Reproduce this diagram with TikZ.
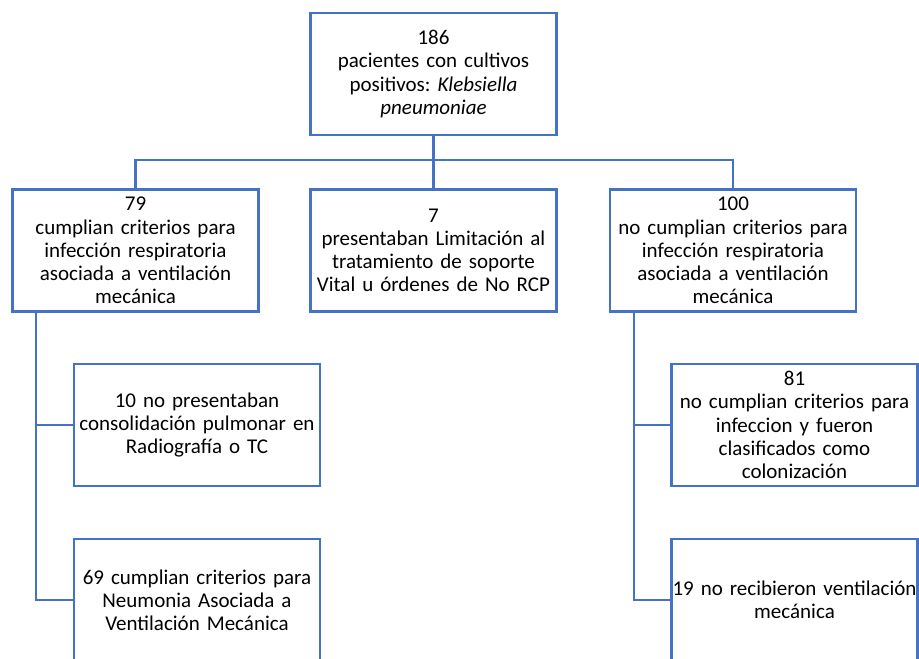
\documentclass[tikz,border=0pt]{standalone}
\usepackage{fontspec}
\setmainfont{Carlito}
\usepackage{xcolor}
\definecolor{boxblue}{HTML}{4472C4}
\frenchspacing

\begin{document}
\begin{tikzpicture}[x=1pt, y=1pt,
		every node/.style={font=\fontsize{21}{23.2}\selectfont, color=black},
		box/.style={draw=boxblue, fill=white, line width=2.8pt, minimum width=246pt, minimum height=122pt, text width=244pt, inner sep=0pt, align=center},
		conn/.style={draw=boxblue, line width=2.8pt}
	]
	\clip (0,0) rectangle (919,-659);

	\node[box] (total) at (433.5,-74) {186\\pacientes con cultivos\\positivos: \textit{Klebsiella}\\\textit{pneumoniae}};

	\node[box] (cumplen) at (135.5,-250.5) {79\\cumplian criterios para\\infección respiratoria\\asociada a ventilación\\mecánica};
	\node[box] (limit) at (433.5,-250.5) {7\\presentaban Limitación al\\tratamiento de soporte\\Vital u órdenes de No RCP};
	\node[box] (nocumplen) at (733,-250.5) {100\\no cumplian criterios para\\infección respiratoria\\asociada a ventilación\\mecánica};

	\node[box] (sinrx) at (197,-425) {10 no presentaban\\consolidación pulmonar en\\Radiografía o TC};
	\node[box] (nav) at (197,-600) {69 cumplian criterios para\\Neumonia Asociada a\\Ventilación Mecánica};

	\node[box] (colon) at (794.5,-425) {81\\no cumplian criterios para\\infeccion y fueron\\clasificados como\\colonización};
	\node[box] (sinvm) at (794.5,-600) {19 no recibieron ventilación\\mecánica};

	\coordinate (bus) at (433.5,-160);
	\coordinate (ltrunk) at (36,-311);
	\coordinate (rtrunk) at (634,-311);

	\draw[conn] (total.south) -- (bus);
	\draw[conn] (cumplen.north) |- (bus) -| (nocumplen.north);
	\draw[conn] (limit.north) -- (bus);
	\draw[conn] (ltrunk) |- (nav.west);
	\draw[conn] (ltrunk |- sinrx.west) -- (sinrx.west);
	\draw[conn] (rtrunk) |- (sinvm.west);
	\draw[conn] (rtrunk |- colon.west) -- (colon.west);
\end{tikzpicture}
\end{document}
